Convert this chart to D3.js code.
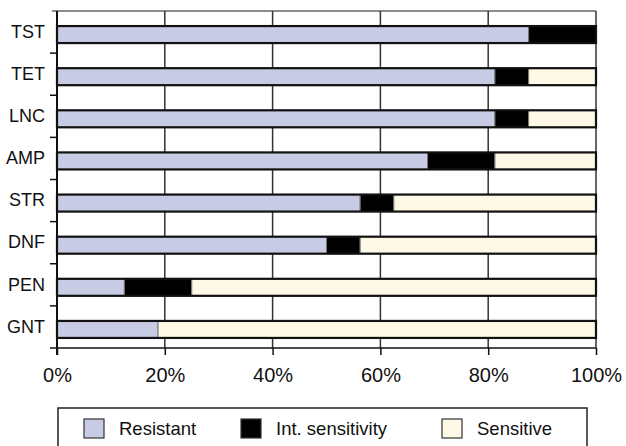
<!DOCTYPE html>
<html>
<head>
<meta charset="utf-8">
<script src="https://cdn.jsdelivr.net/npm/d3@7"></script>
<style>
  body { margin: 0; background: #fff; }
  svg { display: block; font-family: "Liberation Sans", Arial, sans-serif; }
</style>
</head>
<body>
<svg id="chart" width="626" height="446"></svg>
<script>
// data (percent of isolates)
var drugs = ["TST", "TET", "LNC", "AMP", "STR", "DNF", "PEN", "GNT"];
var resistant = [87.5, 81.25, 81.25, 68.75, 56.25, 50, 12.5, 18.75];
var intermediate = [12.5, 6.25, 6.25, 12.5, 6.25, 6.25, 12.5, 0];
var sensitive = [0, 12.5, 12.5, 18.75, 37.5, 43.75, 75, 81.25];
var seriesNames = ["Resistant", "Int. sensitivity", "Sensitive"];
var xTicks = [0, 20, 40, 60, 80, 100];

var colors = ["#c8cbe4", "#000000", "#fdf9e6"];

var svg = d3.select("#chart");
var plotLeft = 57, plotRight = 596, plotTop = 11, plotBottom = 348;

var x = d3.scaleLinear().domain([0, 100]).range([plotLeft, plotRight]);
var y = d3.scaleBand().domain(drugs).range([plotTop, plotBottom]);

var rows = drugs.map((d, i) => ({
    drug: d,
    Resistant: resistant[i],
    "Int. sensitivity": intermediate[i],
    Sensitive: sensitive[i]
}));
var stacked = d3.stack().keys(seriesNames)(rows);

// plot frame: top line + right line
svg.append("line")
    .attr("x1", plotLeft - 5).attr("x2", plotRight)
    .attr("y1", plotTop).attr("y2", plotTop)
    .attr("stroke", "#666").attr("stroke-width", 1.5);
svg.append("line")
    .attr("x1", plotRight).attr("x2", plotRight)
    .attr("y1", plotTop).attr("y2", plotBottom)
    .attr("stroke", "#333").attr("stroke-width", 1.5);

// vertical gridlines
svg.append("g").selectAll("line")
    .data(xTicks.filter(t => t > 0 && t < 100))
    .join("line")
    .attr("x1", d => x(d)).attr("x2", d => x(d))
    .attr("y1", plotTop).attr("y2", plotBottom)
    .attr("stroke", "#333").attr("stroke-width", 1.5);

// bars
var barH = 17;
var barY = drug => y(drug) + (y.bandwidth() - barH) / 2 + 2.5;

svg.append("g").selectAll("g")
    .data(stacked)
    .join("g")
    .attr("fill", (d, i) => colors[i])
    .selectAll("rect")
    .data(d => d.filter(s => s[1] - s[0] > 0))
    .join("rect")
    .attr("x", d => x(d[0]))
    .attr("width", d => x(d[1]) - x(d[0]))
    .attr("y", d => barY(d.data.drug))
    .attr("height", barH)
    .attr("stroke", "#777")
    .attr("stroke-width", 1);

// thick outline around each whole bar
svg.append("g").selectAll("rect")
    .data(rows)
    .join("rect")
    .attr("x", x(0))
    .attr("width", x(100) - x(0))
    .attr("y", d => barY(d.drug))
    .attr("height", barH)
    .attr("fill", "none")
    .attr("stroke", "#111")
    .attr("stroke-width", 2.2);

// x axis
var xAxis = svg.append("g")
    .attr("transform", `translate(0,${plotBottom})`)
    .call(d3.axisBottom(x).tickValues(xTicks).tickFormat(d => d + "%")
        .tickSize(7).tickPadding(13).tickSizeOuter(0));
xAxis.select(".domain").attr("stroke", "#111").attr("stroke-width", 1.5)
    .attr("d", `M${plotLeft - 7},0H${plotRight}`);
xAxis.selectAll(".tick line").attr("stroke", "#111").attr("stroke-width", 1.5);
xAxis.selectAll("text").attr("font-size", 20).attr("fill", "#111")
    .attr("font-family", "Liberation Sans, Arial, sans-serif");

// y axis labels
var yAxis = svg.append("g")
    .attr("transform", `translate(${plotLeft},0)`)
    .call(d3.axisLeft(y).tickSize(0).tickPadding(12));
yAxis.select(".domain").remove();
yAxis.selectAll("text").attr("font-size", 18).attr("fill", "#111")
    .attr("font-family", "Liberation Sans, Arial, sans-serif");

// y axis line and category boundary ticks
svg.append("line")
    .attr("x1", plotLeft).attr("x2", plotLeft)
    .attr("y1", plotTop).attr("y2", plotBottom + 7)
    .attr("stroke", "#111").attr("stroke-width", 2);
svg.append("g").selectAll("line")
    .data(drugs.slice(1))
    .join("line")
    .attr("x1", plotLeft - 7).attr("x2", plotLeft)
    .attr("y1", d => y(d)).attr("y2", d => y(d))
    .attr("stroke", "#111").attr("stroke-width", 1.5);

// legend
var legend = svg.append("g");
legend.append("rect")
    .attr("x", 58).attr("y", 408)
    .attr("width", 529).attr("height", 60)
    .attr("fill", "#fff").attr("stroke", "#222").attr("stroke-width", 1.5);

var legendX = [84, 241, 442];
var item = legend.selectAll("g.item")
    .data(seriesNames)
    .join("g")
    .attr("class", "item")
    .attr("transform", (d, i) => `translate(${legendX[i]},419)`);
item.append("rect")
    .attr("width", 20).attr("height", 19)
    .attr("fill", (d, i) => colors[i])
    .attr("stroke", "#333").attr("stroke-width", 1.2);
item.append("text")
    .attr("x", 35).attr("y", 16)
    .attr("font-size", 18.5).attr("fill", "#111")
    .text(d => d);
</script>
</body>
</html>
